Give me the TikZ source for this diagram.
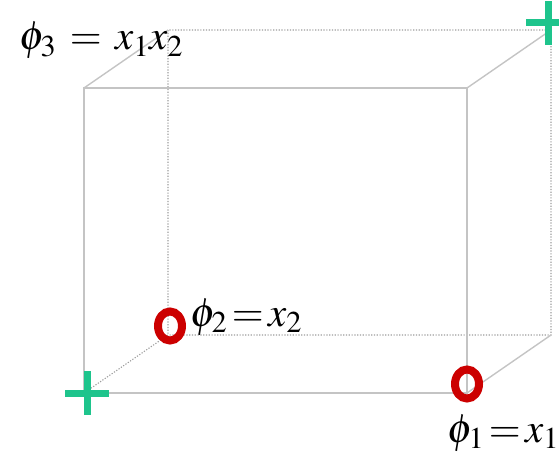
\documentclass[tikz,border=0pt]{standalone}
\usepackage{mathptmx}
\usepackage{tikz}
\usetikzlibrary{shapes.misc,shapes.geometric}
\definecolor{cubegray}{HTML}{C4C4C4}
\definecolor{plusgreen}{HTML}{1EC48C}
\definecolor{ringred}{HTML}{CC0000}

\begin{document}
\begin{tikzpicture}[x=1pt,y=-1pt,
  edge/.style={draw=cubegray,line width=1.4pt},
  hidden/.style={draw=cubegray!80!black,line width=1.1pt,dash pattern=on 1.2pt off 1.6pt},
  plusmark/.style={cross out,draw=plusgreen,line width=7pt,rotate=45,
    minimum size=24pt,inner sep=0pt},
  ringmark/.style={ellipse,draw=ringred,line width=8pt,minimum width=24pt,
    minimum height=29pt,inner sep=0pt},
  lbl/.style={anchor=base west,inner sep=0pt,font=\fontsize{41}{47}\selectfont}]
  \useasboundingbox (0,0) rectangle (559,454);
  % front face
  \coordinate (f00) at (84,393);
  \coordinate (f10) at (467,393);
  \coordinate (f11) at (467,88);
  \coordinate (f01) at (84,88);
  % back face
  \coordinate (b00) at (168,335);
  \coordinate (b10) at (551,335);
  \coordinate (b11) at (551,30);
  \coordinate (b01) at (168,30);
  % hidden edges
  \draw[hidden] (f00) -- (b00) -- (b10) -- (b11) -- (b01) -- (b00);
  % visible edges
  \draw[edge] (f00) -- (f10) -- (f11) -- (f01) -- cycle;
  \draw[edge] (f01) -- (b01);
  \draw[edge] (f11) -- (b11);
  \draw[edge] (f10) -- (b10);
  % class markers
  \node[plusmark] (p1) at (87,393) {};
  \node[plusmark] (p2) at (548,23) {};
  \node[ringmark] (o1) at (170,326) {};
  \node[ringmark] (o2) at (467,384) {};
  % features
  \node[lbl] (phi3) at (19,50) {$\phi_3 \,=\, x_1x_2$};
  \node[lbl] (phi2) at (190,326) {$\phi_2\!=\!x_2$};
  \node[lbl] (phi1) at (447,442) {$\phi_1\!=\!x_1$};
\end{tikzpicture}
\end{document}
